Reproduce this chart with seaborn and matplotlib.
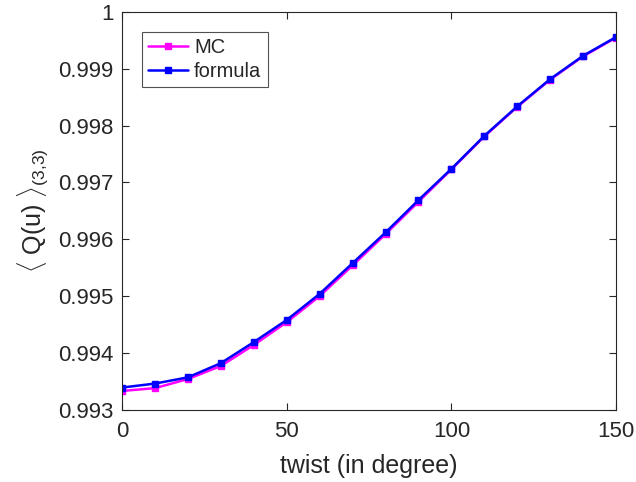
import matplotlib
matplotlib.use("Agg")
import matplotlib.pyplot as plt
import pandas as pd
import seaborn as sns

# twist angle in degrees
twist = [0, 10, 20, 30, 40, 50, 60, 70, 80, 90, 100, 110, 120, 130, 140, 150]

# Monte Carlo estimate
mc = [0.99333, 0.99338, 0.99354, 0.99377, 0.99414, 0.99454, 0.99500, 0.99554,
      0.99609, 0.99666, 0.99723, 0.99781, 0.99833, 0.99881, 0.99922, 0.99955]

# closed-form formula
formula = [0.99339, 0.99346, 0.99357, 0.99382, 0.99419, 0.99458, 0.99504, 0.99558,
           0.99612, 0.99669, 0.99724, 0.99782, 0.99834, 0.99882, 0.99923, 0.99956]

sns.set_style("ticks")
plt.rcParams["font.family"] = ["Liberation Sans", "DejaVu Sans"]
plt.rcParams["mathtext.fontset"] = "custom"
plt.rcParams["mathtext.rm"] = "Liberation Sans"
plt.rcParams["mathtext.it"] = "Liberation Sans:italic"

df = pd.DataFrame({
    "twist": twist * 2,
    "value": mc + formula,
    "series": ["MC"] * len(twist) + ["formula"] * len(twist),
})

fig = plt.figure(figsize=(6.36, 4.82), dpi=100)
ax = fig.add_axes([0.192, 0.15, 0.7766, 0.825])

sns.lineplot(
    data=df,
    x="twist",
    y="value",
    hue="series",
    palette={"MC": "#ff00ff", "formula": "#0000ff"},
    marker="s",
    markersize=5,
    linewidth=1.8,
    ax=ax,
)

# matlab-style markers: filled squares, edge in the line colour
for line in ax.lines:
    line.set_markeredgecolor(line.get_color())
    line.set_markeredgewidth(1.0)

grey = "#262626"
ax.set_xlim(0, 150)
ax.set_ylim(0.993, 1.0)
ax.set_xticks([0, 50, 100, 150])
ax.set_yticks([0.993, 0.994, 0.995, 0.996, 0.997, 0.998, 0.999, 1.0])
ax.set_yticklabels(["0.993", "0.994", "0.995", "0.996", "0.997", "0.998", "0.999", "1"])
ax.tick_params(direction="in", length=5, width=0.8, colors=grey,
               labelsize=16, top=True, right=True)
ax.tick_params(axis="x", pad=8)
ax.tick_params(axis="y", pad=6)
for sp in ax.spines.values():
    sp.set_color(grey)
    sp.set_linewidth(0.8)

ax.set_xlabel("twist (in degree)", fontsize=18, color=grey, labelpad=9)
ax.set_ylabel(r"$\langle\ \mathrm{Q(u)}\ \rangle_{(3{,}3)}$", fontsize=18,
              color=grey, labelpad=5)

leg = ax.legend(loc="upper left", bbox_to_anchor=(0.04, 0.95), fontsize=14.5,
                frameon=True, fancybox=False, handlelength=2.0,
                borderpad=0.3, labelspacing=0.25, handletextpad=0.3,
                borderaxespad=0)
leg.get_frame().set_edgecolor(grey)
leg.get_frame().set_linewidth(0.8)
for h in leg.get_lines():
    h.set_markeredgecolor(h.get_color())
    h.set_markeredgewidth(1.0)

fig.savefig("out.png", dpi=100)
